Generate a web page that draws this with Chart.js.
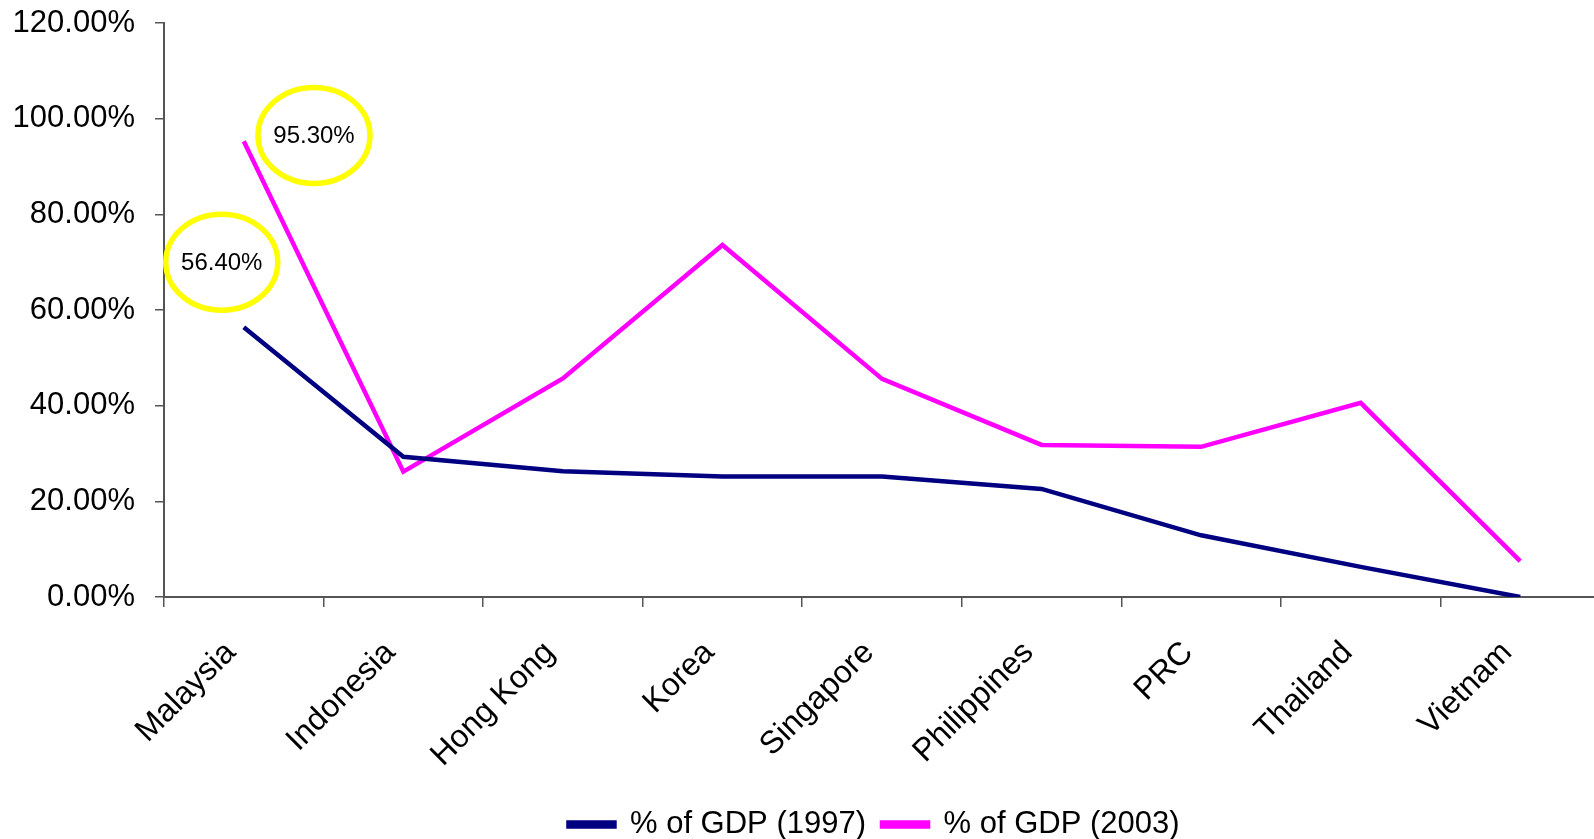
<!DOCTYPE html>
<html>
<head>
<meta charset="utf-8">
<script src="https://cdn.jsdelivr.net/npm/chart.js@4"></script>
<style>
  html, body { margin: 0; padding: 0; background: #fff; overflow: hidden; }
  #wrap { width: 1610px; height: 839px; }
</style>
</head>
<body>
<div id="wrap"><canvas id="c" width="1610" height="839"></canvas></div>
<script>
const categories = ['Malaysia','Indonesia','Hong Kong','Korea','Singapore','Philippines','PRC','Thailand','Vietnam'];
const gdp1997 = [56.4, 29.3, 26.3, 25.2, 25.2, 22.6, 12.9, 6.3, 0];
const gdp2003 = [95.3, 26.2, 45.7, 73.6, 45.6, 31.8, 31.4, 40.6, 7.5];
const seriesNames = ['% of GDP (1997)', '% of GDP (2003)'];
const yTicks = [0, 20, 40, 60, 80, 100, 120];

// callout annotations (text, anchor in data units: category index, percent)
const calloutTexts = ['56.40%', '95.30%'];
const calloutX = [-0.138, 0.44];
const calloutY = [70.0, 96.5];

const FONT = 'Liberation Sans, Arial, sans-serif';

const calloutPlugin = {
  id: 'callouts',
  afterLayout(chart) {
    if (chart.legend) { chart.legend.left -= 8; chart.legend.right -= 8; }
  },
  afterDatasetsDraw(chart) {
    const ctx = chart.ctx;
    const xs = chart.scales.x, ys = chart.scales.y;
    ctx.save();
    for (let i = 0; i < calloutTexts.length; i++) {
      const cx = xs.getPixelForValue(calloutX[i]);
      const cy = ys.getPixelForValue(calloutY[i]);
      ctx.beginPath();
      ctx.ellipse(cx, cy, 56, 48, 0, 0, Math.PI * 2);
      ctx.lineWidth = 5.5;
      ctx.strokeStyle = '#FFFF00';
      ctx.stroke();
      ctx.fillStyle = '#000';
      ctx.font = '24px ' + FONT;
      ctx.textAlign = 'center';
      ctx.textBaseline = 'middle';
      ctx.fillText(calloutTexts[i], cx, cy + 1);
    }
    ctx.restore();
  }
};

new Chart(document.getElementById('c'), {
  type: 'line',
  data: {
    labels: categories,
    datasets: [
      { label: seriesNames[0], data: gdp1997, borderColor: '#000080', backgroundColor: '#000080',
        borderWidth: 4.5, pointRadius: 0, tension: 0 },
      { label: seriesNames[1], data: gdp2003, borderColor: '#FF00FF', backgroundColor: '#FF00FF',
        borderWidth: 4.5, pointRadius: 0, tension: 0 }
    ]
  },
  options: {
    responsive: false,
    animation: false,
    layout: { padding: { top: 23, right: 10, left: 0, bottom: -11 } },
    plugins: {
      legend: {
        position: 'bottom',
        fullSize: false,
        labels: {
          color: '#000',
          font: { family: FONT, size: 31 },
          boxWidth: 46,
          boxHeight: 4,
          padding: 16
        }
      },
      tooltip: { enabled: false }
    },
    scales: {
      x: {
        offset: true,
        grid: { display: true, drawOnChartArea: false, drawTicks: true, tickLength: 10, offset: true, color: '#555', lineWidth: 1.5 },
        border: { display: true, color: '#555', width: 2 },
        ticks: {
          color: '#000', font: { family: FONT, size: 32 },
          maxRotation: 45, minRotation: 45, autoSkip: false, padding: 27, labelOffset: -13
        },
        afterFit(scale) { scale.height = 196; }
      },
      y: {
        min: 0, max: 120,
        afterBuildTicks(scale) { scale.ticks = yTicks.map(v => ({ value: v })); },
        grid: { display: true, drawOnChartArea: false, drawTicks: true, tickLength: 9, color: '#555', lineWidth: 1.5 },
        border: { display: true, color: '#555', width: 2 },
        ticks: {
          color: '#000', font: { family: FONT, size: 31 }, padding: 20,
          callback: (v) => Number(v).toFixed(2) + '%'
        },
        afterFit(scale) { scale.width = 164; scale.paddingTop = 0; scale.paddingBottom = 0; }
      }
    }
  },
  plugins: [calloutPlugin]
});
</script>
</body>
</html>
